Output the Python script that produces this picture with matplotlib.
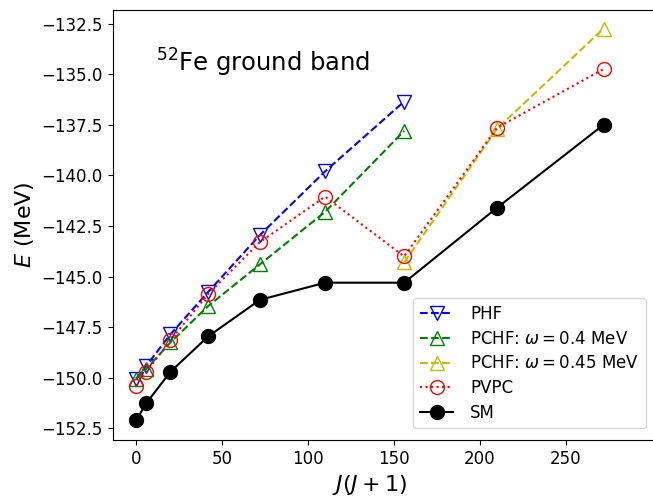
import matplotlib
matplotlib.use('Agg')
import matplotlib.pyplot as plt

# J(J+1) for J = 0, 2, ..., 16
jj = [0, 6, 20, 42, 72, 110, 156, 210, 272]

phf = [-150.05, -149.4, -147.85, -145.75, -142.95, -139.8, -136.35]
pchf_04 = [-150.05, -149.55, -148.25, -146.45, -144.4, -141.8, -137.8]
jj_045 = [156, 210, 272]
pchf_045 = [-144.3, -137.7, -132.75]
pvpc = [-150.4, -149.7, -148.15, -145.85, -143.3, -141.05, -144.0, -137.65, -134.75]
sm = [-152.1, -151.25, -149.7, -147.95, -146.15, -145.3, -145.3, -141.6, -137.5]

fig = plt.figure(figsize=(6.53, 5.0), dpi=100)
ax = fig.add_axes([0.1726, 0.12, 0.834, 0.86])

ax.plot(jj[:7], phf, 'b--', marker='v', mfc='none', ms=10, label='PHF')
ax.plot(jj[:7], pchf_04, 'g--', marker='^', mfc='none', ms=10,
        label=r'PCHF: $\omega = 0.4$ MeV')
ax.plot(jj_045, pchf_045, 'y--', marker='^', mfc='none', ms=10,
        label=r'PCHF: $\omega = 0.45$ MeV')
ax.plot(jj, pvpc, 'r:', marker='o', mfc='none', ms=10, label='PVPC')
ax.plot(jj, sm, 'k-', marker='o', ms=10, label='SM')

ax.text(0.08, 0.877, r'$^{52}$Fe ground band', transform=ax.transAxes,
        fontsize=17.5, va='center')

ax.set_xlim(-13.6, 303.3)
ax.set_ylim(-153.07, -131.83)
ax.set_xticks([0, 50, 100, 150, 200, 250])
ax.set_yticks([-152.5, -150, -147.5, -145, -142.5, -140, -137.5, -135, -132.5])
ax.tick_params(labelsize=12)
ax.set_xlabel(r'$J(J+1)$', fontsize=16)
ax.xaxis.label.set_x(0.473)
ax.set_ylabel(r'$E$ (MeV)', fontsize=16)
ax.legend(loc='lower right', fontsize=12, labelspacing=0.4,
          handletextpad=1.0, borderaxespad=0.7)

plt.savefig('out.png', dpi=100)
